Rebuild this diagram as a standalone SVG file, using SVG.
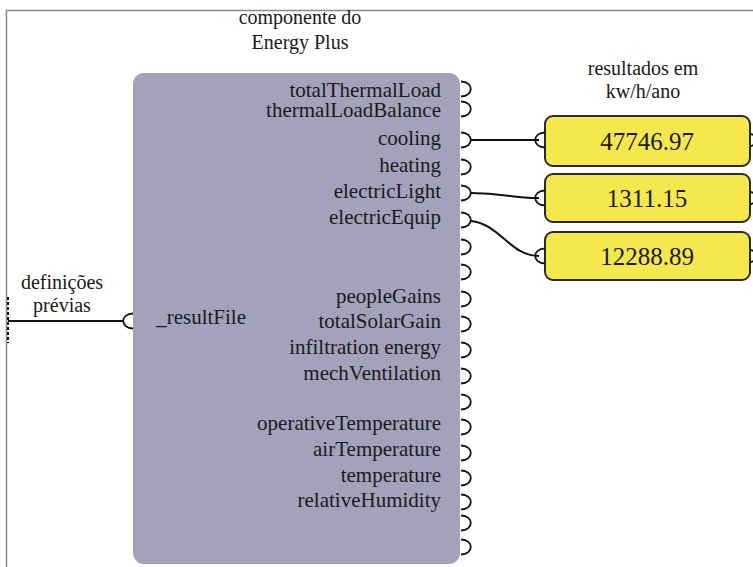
<svg xmlns="http://www.w3.org/2000/svg" width="753" height="567" viewBox="0 0 753 567">
<style>
.lbl{font-size:21px;text-anchor:end}
.cap{font-size:20px;text-anchor:middle}
.val{font-size:25px;text-anchor:middle}
.port{fill:none;stroke:#111;stroke-width:1.8}
.wire{fill:none;stroke:#111;stroke-width:2}
</style>
<defs>
<path id="op" d="M461 -7.5 C474 -7.5 474 7.5 461 7.5" fill="none" stroke="#111" stroke-width="1.8"/>
<path id="ip" d="M8 -7.5 C-5 -7.5 -5 7.5 8 7.5" fill="none" stroke="#111" stroke-width="1.8"/>
</defs>
<rect width="753" height="567" fill="#fff"/>
<path d="M6.5 567 V10.5 H753" fill="none" stroke="#8a8a8a" stroke-width="1.5"/>

<g id="captions" font-family="Liberation Serif, Times New Roman, serif" fill="#1a1a1a">
<text class="cap" x="300" y="24">componente do</text>
<text class="cap" x="300" y="49">Energy Plus</text>
<text class="cap" x="643" y="75">resultados em</text>
<text class="cap" x="643" y="98">kw/h/ano</text>
<text class="cap" x="62" y="289">definições</text>
<text class="cap" x="62" y="312">prévias</text>
</g>

<g id="connectors">
<path class="wire" d="M8 321 H124"/>
<path class="wire" d="M8 297 V343" stroke-width="3" stroke-dasharray="3 2"/>
<path class="wire" d="M471 140 H539"/>
<path class="wire" d="M471 193 C505 193 510 198 539 198"/>
<path class="wire" d="M471 221 C500 224 510 256 539 256"/>
</g>

<g id="energyplus" font-family="Liberation Serif, Times New Roman, serif" fill="#1a1a1a">
<rect x="133" y="73" width="327" height="491" rx="11" fill="#a4a2ba"/>
<path d="M133 313.5 C120 313.5 120 328.5 133 328.5" class="port"/>
<text class="lbl" x="246" y="324">_resultFile</text>
<text class="lbl" x="441" y="97">totalThermalLoad</text>
<text class="lbl" x="441" y="117">thermalLoadBalance</text>
<text class="lbl" x="441" y="145">cooling</text>
<text class="lbl" x="441" y="172">heating</text>
<text class="lbl" x="441" y="198">electricLight</text>
<text class="lbl" x="441" y="224">electricEquip</text>
<text class="lbl" x="441" y="303">peopleGains</text>
<text class="lbl" x="441" y="328">totalSolarGain</text>
<text class="lbl" x="441" y="354">infiltration energy</text>
<text class="lbl" x="441" y="380">mechVentilation</text>
<text class="lbl" x="441" y="430">operativeTemperature</text>
<text class="lbl" x="441" y="456">airTemperature</text>
<text class="lbl" x="441" y="482">temperature</text>
<text class="lbl" x="441" y="507">relativeHumidity</text>
<use href="#op" y="89"/>
<use href="#op" y="109"/>
<use href="#op" y="140"/>
<use href="#op" y="167"/>
<use href="#op" y="193"/>
<use href="#op" y="220"/>
<use href="#op" y="247"/>
<use href="#op" y="272"/>
<use href="#op" y="299"/>
<use href="#op" y="324"/>
<use href="#op" y="350"/>
<use href="#op" y="376"/>
<use href="#op" y="402"/>
<use href="#op" y="427"/>
<use href="#op" y="453"/>
<use href="#op" y="478"/>
<use href="#op" y="502"/>
<use href="#op" y="523"/>
<use href="#op" y="547"/>
</g>

<g id="panel1" font-family="Liberation Serif, Times New Roman, serif" fill="#1a1a1a">
<rect x="545" y="116" width="205" height="50" rx="8" fill="#f4e84c" stroke="#2a2a2a" stroke-width="2"/>
<use href="#ip" x="537" y="140"/>
<path d="M750 134 A6 6 0 0 1 750 146" class="port"/>
<text class="val" x="647" y="150">47746.97</text>
</g>
<g id="panel2" font-family="Liberation Serif, Times New Roman, serif" fill="#1a1a1a">
<rect x="545" y="174" width="205" height="48" rx="8" fill="#f4e84c" stroke="#2a2a2a" stroke-width="2"/>
<use href="#ip" x="537" y="198"/>
<path d="M750 192 A6 6 0 0 1 750 204" class="port"/>
<text class="val" x="647" y="207">1311.15</text>
</g>
<g id="panel3" font-family="Liberation Serif, Times New Roman, serif" fill="#1a1a1a">
<rect x="545" y="232" width="205" height="48" rx="8" fill="#f4e84c" stroke="#2a2a2a" stroke-width="2"/>
<use href="#ip" x="537" y="256"/>
<path d="M750 250 A6 6 0 0 1 750 262" class="port"/>
<text class="val" x="647" y="265">12288.89</text>
</g>
</svg>
